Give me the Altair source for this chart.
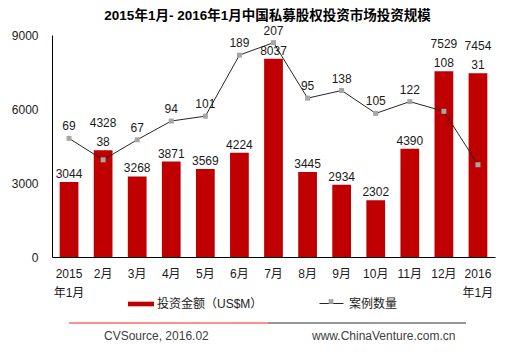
import altair as alt
import pandas as pd

# ---- data ----
months = ["2015年1月", "2月", "3月", "4月", "5月", "6月", "7月", "8月",
          "9月", "10月", "11月", "12月", "2016年1月"]
amounts = [3044, 4328, 3268, 3871, 3569, 4224, 8037, 3445, 2934, 2302, 4390, 7529, 7454]
case_labels = [69, 38, 67, 94, 101, 189, 207, 95, 138, 105, 122, 108, 31]
# where the markers are actually drawn in the picture (August sits higher than its label)
case_points = [69, 38, 67, 94, 101, 189, 207, 127, 138, 105, 122, 108, 31]
y_ticks = [0, 3000, 6000, 9000]

BAR_NAME = "投资金额（US$M）"
LINE_NAME = "案例数量"
MARKER_KEY = "案例数量 "   # distinct key so the marker legend is not merged with the line legend
TITLE = "2015年1月- 2016年1月中国私募股权投资市场投资规模"
SOURCE_LEFT = "CVSource, 2016.02"
SOURCE_RIGHT = "www.ChinaVenture.com.cn"

Y1 = [0, 9000]
Y2 = [-102, 218]

FONT = "Liberation Sans, Noto Sans CJK SC"
TXT = "#1a1a1a"
BAR_COLOR = "#c00000"
LINE_COLOR = "#262626"
MARK_COLOR = "#a6a6a6"
SQUARE = "M-0.2,-0.2H0.2V0.2H-0.2Z"

df = pd.DataFrame({
    "month": months,
    "amount": amounts,
    "case_point": case_points,
    "case_label": case_labels,
})
df["bar_series"] = BAR_NAME
df["line_series"] = LINE_NAME
df["marker_series"] = MARKER_KEY
# marker hidden inside its bar -> labels stacked above the bar
df["inside"] = ((df["case_point"] - Y2[0]) / (Y2[1] - Y2[0])) < (df["amount"] / Y1[1])

base = alt.Chart(df)

X = alt.X(
    "month:N", sort=months,
    scale=alt.Scale(paddingInner=0.45, paddingOuter=0.225),
    axis=alt.Axis(
        title=None, labelAngle=0, ticks=False, domainColor="#000", domainWidth=1,
        labelExpr="datum.value == '2015年1月' ? ['2015', '年1月'] : datum.value == '2016年1月' ? ['2016', '年1月'] : datum.value",
        labelLineHeight=19.5, labelPadding=11, labelFontSize=12, labelColor=TXT,
        labelFont=FONT, labelBaseline="top",
    ),
)

y1 = alt.Scale(domain=Y1, nice=False, zero=False)
y2 = alt.Scale(domain=Y2, nice=False, zero=False)

bars = base.mark_bar().encode(
    x=X,
    y=alt.Y("amount:Q", scale=y1, axis=alt.Axis(
        values=y_ticks, format="d", title=None, ticks=False, grid=False, domainColor="#000",
        domainWidth=1, labelPadding=14, labelFontSize=12, labelColor=TXT, labelFont=FONT)),
    color=alt.Color("bar_series:N",
                    scale=alt.Scale(domain=[BAR_NAME], range=[BAR_COLOR]),
                    legend=alt.Legend(
                        title=None, orient="none", legendX=76, legendY=256,
                        symbolType="M-1,-0.18H1V0.18H-1Z", symbolSize=676,
                        symbolStrokeWidth=0, labelFontSize=12, labelFont=FONT,
                        labelColor=TXT, labelOffset=3, padding=0)),
)

line = base.mark_line(strokeWidth=1).encode(
    x=X,
    y=alt.Y("case_point:Q", scale=y2, axis=None),
    stroke=alt.Stroke("line_series:N",
                      scale=alt.Scale(domain=[LINE_NAME], range=[LINE_COLOR]),
                      legend=alt.Legend(
                          title=None, orient="none", legendX=267, legendY=256,
                          symbolType="M-1,0H1", symbolSize=576, symbolStrokeWidth=1,
                          labelFontSize=12, labelFont=FONT, labelColor=TXT,
                          labelOffset=5, padding=0)),
)

points = base.mark_point(filled=True, opacity=1, color=MARK_COLOR, size=625).encode(
    x=X,
    y=alt.Y("case_point:Q", scale=y2, axis=None),
    shape=alt.Shape("marker_series:N",
                    scale=alt.Scale(domain=[MARKER_KEY], range=[SQUARE]),
                    legend=alt.Legend(
                        title=None, orient="none", legendX=267, legendY=254.5,
                        symbolSize=576, symbolFillColor=MARK_COLOR, symbolStrokeWidth=0,
                        labelFontSize=12, labelFont=FONT, labelExpr="''",
                        labelOffset=5, padding=0)),
)

txt = dict(font=FONT, fontSize=12, color=TXT, baseline="alphabetic", align="center")

bar_lab = base.transform_filter("!datum.inside").mark_text(dy=-4, **txt).encode(
    x=X, y=alt.Y("amount:Q", scale=y1, axis=None), text="amount:Q")
bar_lab_hi = base.transform_filter("datum.inside").mark_text(dy=-23, **txt).encode(
    x=X, y=alt.Y("amount:Q", scale=y1, axis=None), text="amount:Q")
case_lab = base.transform_filter("!datum.inside").mark_text(dy=-8, **txt).encode(
    x=X, y=alt.Y("case_point:Q", scale=y2, axis=None), text="case_label:Q")
case_lab_hi = base.transform_filter("datum.inside").mark_text(dy=-4, **txt).encode(
    x=X, y=alt.Y("amount:Q", scale=y1, axis=None), text="case_label:Q")

# footer
one = alt.Chart(pd.DataFrame({"k": [0]}))
rule_red = one.mark_rule(color="#ff2020", strokeWidth=1).encode(
    x=alt.value(17), x2=alt.value(216), y=alt.value(288))
rule_black = one.mark_rule(color="#333333", strokeWidth=1).encode(
    x=alt.value(216), x2=alt.value(414), y=alt.value(288))
src_l = one.mark_text(font=FONT, fontSize=12, color="#404040", align="left",
                      baseline="middle", text=SOURCE_LEFT).encode(
    x=alt.value(52), y=alt.value(301))
src_r = one.mark_text(font=FONT, fontSize=12, color="#404040", align="left",
                      baseline="middle", text=SOURCE_RIGHT).encode(
    x=alt.value(260), y=alt.value(301))

chart = alt.layer(
    bars, line, points, bar_lab, bar_lab_hi, case_lab, case_lab_hi,
    rule_red, rule_black, src_l, src_r,
).resolve_scale(
    y="independent"
).properties(
    width=443, height=222,
    autosize=alt.AutoSizeParams(type="none"),
    padding={"left": 52, "top": 35, "right": 13, "bottom": 97},
    title=alt.TitleParams(TITLE, font=FONT, fontSize=13.5, fontWeight="bold",
                          color="#000", anchor="middle", offset=2, dx=-6),
).configure_view(stroke=None)

chart.save("out.html", embed_options={"renderer": "svg", "actions": False})
